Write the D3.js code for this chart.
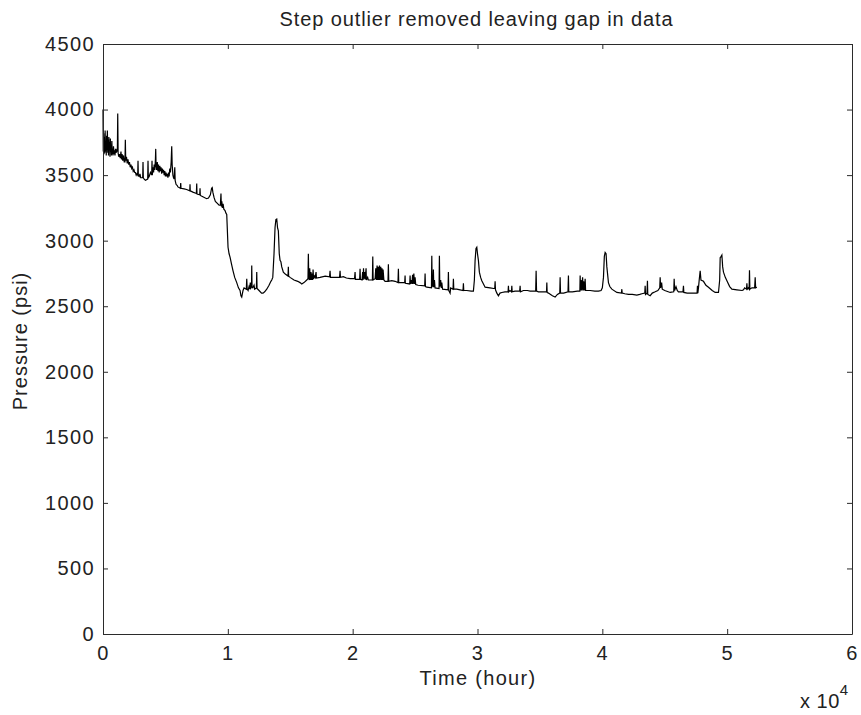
<!DOCTYPE html>
<html>
<head>
<meta charset="utf-8">
<script src="https://cdn.jsdelivr.net/npm/d3@7"></script>
<style>
  html, body { margin: 0; padding: 0; background: #fff; }
  svg text { font-family: Arial, "Liberation Sans", Helvetica, sans-serif; fill: #222; }
</style>
</head>
<body>
<svg id="chart" width="861" height="715"></svg>
<script>
// ---- data ----
const title = "Step outlier removed leaving gap in data";
const xLabel = "Time (hour)";
const yLabel = "Pressure (psi)";
const xTicks = [0, 10000, 20000, 30000, 40000, 50000, 60000];
const xTickLabels = ["0", "1", "2", "3", "4", "5", "6"];
const yTicks = [0, 500, 1000, 1500, 2000, 2500, 3000, 3500, 4000, 4500];

// time in hours
const timeHours = [
  0, 20, 50, 80, 110, 140, 170, 200, 230, 260,
  290, 320, 350, 380, 410, 440, 470, 500, 530, 560,
  590, 620, 650, 680, 710, 740, 770, 800, 840, 880,
  920, 960, 1000, 1050, 1100, 1150, 1180, 1210, 1260, 1320,
  1380, 1440, 1480, 1530, 1580, 1640, 1700, 1760, 1790, 1820,
  1880, 1940, 2000, 2060, 2120, 2180, 2240, 2300, 2360, 2420,
  2480, 2540, 2600, 2660, 2720, 2780, 2805, 2830, 2900, 2960,
  3020, 3180, 3205, 3230, 3300, 3400, 3580, 3606, 3630, 3700,
  3800, 3900, 3926, 3950, 4000, 4050, 4100, 4150, 4200, 4223,
  4250, 4300, 4350, 4400, 4450, 4500, 4550, 4600, 4650, 4700,
  4750, 4800, 4850, 4900, 4950, 5000, 5050, 5100, 5150, 5200,
  5250, 5300, 5350, 5400, 5460, 5505, 5540, 5600, 5650, 5700,
  5750, 5780, 5850, 5950, 6000, 6200, 6226, 6250, 6500, 6700,
  6950, 6971, 6990, 7200, 7480, 7508, 7530, 7750, 7773, 7795,
  8000, 8300, 8450, 8600, 8700, 8750, 8800, 8894, 9000, 9100,
  9300, 9400, 9450, 9480, 9520, 9560, 9620, 9680, 9776, 9850,
  9912, 10016, 10100, 10177, 10300, 10417, 10550, 10713, 10850, 10978,
  11050, 11114, 11218, 11300, 11480, 11515, 11550, 11620, 11700, 11760,
  11800, 11850, 11900, 11915, 11940, 12000, 12100, 12150, 12290, 12316,
  12340, 12500, 12700, 12821, 12950, 13117, 13300, 13450, 13518, 13600,
  13700, 13782, 13850, 13919, 13980, 14047, 14120, 14183, 14250, 14319,
  14447, 14600, 14820, 14848, 14870, 14984, 15300, 15600, 15786, 15922,
  16100, 16323, 16420, 16451, 16480, 16530, 16560, 16600, 16660, 16700,
  16760, 16800, 16827, 16870, 16950, 17000, 17067, 17100, 17388, 17800,
  18150, 18189, 18220, 18500, 18950, 18991, 19020, 19255, 19500, 19800,
  20150, 20193, 20220, 20560, 20593, 20620, 20750, 20800, 20834, 20870,
  20900, 20950, 21000, 21074, 21100, 21200, 21250, 21395, 21580, 21611,
  21640, 21800, 21850, 21900, 21956, 22000, 22050, 22100, 22150, 22196,
  22250, 22300, 22350, 22400, 22436, 22500, 22597, 22830, 22861, 22890,
  23134, 23400, 23630, 23663, 23690, 23799, 24170, 24199, 24220, 24570,
  24600, 24630, 24700, 24750, 24800, 24840, 24900, 24950, 25000, 25050,
  25241, 25770, 25802, 25830, 25938, 26310, 26339, 26370, 26400, 26430,
  26467, 26500, 26550, 26600, 26920, 26948, 26980, 27050, 27100, 27140,
  27200, 27640, 27669, 27700, 27805, 27850, 28040, 28070, 28100, 28342,
  28600, 28840, 28871, 28900, 29143, 29500, 29672, 29750, 29808, 29880,
  29945, 30000, 30073, 30150, 30250, 30345, 30610, 31000, 31300, 31380,
  31411, 31440, 31550, 31676, 31800, 31948, 32200, 32450, 32477, 32500,
  32600, 32720, 32749, 32780, 33000, 33380, 33414, 33440, 33679, 34000,
  34216, 34660, 34696, 34730, 34881, 35200, 35530, 35554, 35580, 35682,
  36000, 36219, 36400, 36590, 36619, 36650, 36900, 37250, 37284, 37310,
  37600, 38000, 38200, 38222, 38260, 38300, 38350, 38420, 38460, 38500,
  38560, 38623, 38660, 39024, 39400, 39689, 39900, 40000, 40090, 40160,
  40225, 40300, 40362, 40490, 40600, 40762, 41163, 41530, 41563, 41590,
  41800, 42092, 42400, 42765, 43000, 43166, 43400, 43430, 43460, 43580,
  43614, 43640, 43831, 44000, 44232, 44450, 44600, 44632, 44670, 44750,
  44800, 45000, 45433, 45720, 45754, 45790, 45900, 46000, 46098, 46460,
  46499, 46530, 46796, 47200, 47590, 47621, 47650, 47700, 47760, 47838,
  47900, 48102, 48300, 48503, 48800, 49039, 49304, 49400, 49440, 49520,
  49577, 49640, 49705, 49850, 49978, 50200, 50378, 50779, 51200, 51308,
  51400, 51550, 51580, 51610, 51700, 51760, 51788, 51820, 51981, 52200,
  52245, 52280, 52381
];

// pressure in psi
const pressurePsi = [
  4000, 3680, 3820, 3660, 3790, 3670, 3840, 3680, 3760, 3650,
  3800, 3690, 3840, 3670, 3770, 3650, 3790, 3690, 3750, 3640,
  3780, 3680, 3720, 3650, 3760, 3660, 3700, 3650, 3720, 3660,
  3690, 3650, 3700, 3670, 3690, 3680, 3970, 3670, 3640, 3660,
  3630, 3680, 3620, 3660, 3610, 3650, 3600, 3600, 3770, 3610,
  3640, 3590, 3620, 3580, 3600, 3560, 3580, 3550, 3560, 3530,
  3540, 3520, 3520, 3500, 3510, 3500, 3610, 3500, 3490, 3510,
  3480, 3480, 3600, 3480, 3470, 3460, 3470, 3610, 3480, 3490,
  3520, 3500, 3610, 3500, 3560, 3520, 3580, 3540, 3620, 3700,
  3580, 3540, 3600, 3530, 3580, 3520, 3570, 3530, 3560, 3510,
  3550, 3520, 3540, 3500, 3530, 3490, 3520, 3490, 3510, 3480,
  3520, 3490, 3550, 3520, 3600, 3720, 3580, 3500, 3480, 3470,
  3560, 3460, 3430, 3420, 3410, 3400, 3440, 3400, 3395, 3390,
  3380, 3430, 3380, 3370, 3360, 3435, 3355, 3350, 3400, 3345,
  3335, 3320, 3325, 3350, 3400, 3405, 3370, 3330, 3300, 3290,
  3270, 3270, 3360, 3260, 3300, 3250, 3280, 3240, 3230, 3210,
  3200, 2950, 2900, 2875, 2820, 2770, 2720, 2680, 2640, 2620,
  2580, 2570, 2620, 2640, 2630, 2710, 2630, 2620, 2650, 2630,
  2680, 2640, 2650, 2810, 2645, 2640, 2660, 2630, 2640, 2760,
  2635, 2620, 2600, 2600, 2610, 2630, 2660, 2690, 2700, 2720,
  2900, 3100, 3160, 3165, 3100, 3075, 2900, 2850, 2840, 2800,
  2760, 2745, 2730, 2800, 2730, 2720, 2700, 2690, 2680, 2670,
  2680, 2700, 2710, 2900, 2720, 2700, 2790, 2700, 2760, 2700,
  2750, 2700, 2780, 2710, 2730, 2720, 2760, 2715, 2720, 2730,
  2725, 2770, 2720, 2720, 2720, 2770, 2720, 2725, 2715, 2710,
  2710, 2760, 2705, 2705, 2785, 2705, 2700, 2760, 2700, 2790,
  2710, 2760, 2705, 2790, 2700, 2720, 2700, 2700, 2700, 2880,
  2700, 2710, 2790, 2700, 2810, 2700, 2800, 2700, 2810, 2700,
  2800, 2700, 2790, 2700, 2780, 2700, 2690, 2690, 2820, 2690,
  2695, 2690, 2680, 2785, 2680, 2680, 2680, 2735, 2675, 2670,
  2735, 2670, 2700, 2670, 2740, 2670, 2750, 2670, 2720, 2665,
  2660, 2655, 2750, 2650, 2645, 2640, 2885, 2650, 2720, 2645,
  2780, 2645, 2700, 2640, 2635, 2885, 2650, 2700, 2640, 2680,
  2630, 2625, 2760, 2620, 2600, 2640, 2630, 2710, 2630, 2630,
  2625, 2620, 2675, 2620, 2620, 2615, 2615, 2700, 2850, 2940,
  2950, 2900, 2850, 2760, 2720, 2695, 2645, 2640, 2635, 2635,
  2690, 2625, 2600, 2580, 2600, 2605, 2610, 2610, 2655, 2610,
  2620, 2610, 2655, 2610, 2615, 2615, 2655, 2610, 2620, 2620,
  2615, 2615, 2770, 2615, 2610, 2610, 2610, 2680, 2605, 2600,
  2580, 2570, 2590, 2600, 2720, 2600, 2600, 2610, 2735, 2610,
  2610, 2615, 2615, 2735, 2620, 2700, 2620, 2720, 2620, 2690,
  2620, 2710, 2620, 2620, 2615, 2615, 2620, 2640, 2720, 2880,
  2910, 2900, 2800, 2680, 2650, 2630, 2605, 2600, 2630, 2600,
  2595, 2590, 2590, 2585, 2590, 2595, 2600, 2655, 2590, 2600,
  2695, 2590, 2580, 2600, 2610, 2620, 2640, 2720, 2640, 2680,
  2630, 2620, 2605, 2610, 2710, 2620, 2650, 2620, 2610, 2610,
  2655, 2605, 2600, 2600, 2600, 2655, 2600, 2640, 2700, 2770,
  2700, 2690, 2660, 2645, 2620, 2605, 2605, 2700, 2870, 2880,
  2890, 2800, 2760, 2720, 2695, 2650, 2630, 2625, 2620, 2625,
  2640, 2630, 2675, 2630, 2640, 2630, 2775, 2630, 2640, 2640,
  2720, 2640, 2645
];

// ---- layout ----
const svg = d3.select("#chart");
const margin = { left: 103, right: 9, top: 44, bottom: 81 };
const W = 861, H = 715;
const plotW = W - margin.left - margin.right;
const plotH = H - margin.top - margin.bottom;

const x = d3.scaleLinear().domain([0, 60000]).range([margin.left, margin.left + plotW]);
const y = d3.scaleLinear().domain([0, 4500]).range([margin.top + plotH, margin.top]);

const axisColor = "#2b2b2b";
const g = svg.append("g");

// data line
const pts = timeHours.map((t, i) => [t, pressurePsi[i]]);
g.append("path")
  .datum(pts)
  .attr("fill", "none")
  .attr("stroke", "#000")
  .attr("stroke-width", 1.2)
  .attr("stroke-linejoin", "miter")
  .attr("d", d3.line().x(d => x(d[0])).y(d => y(d[1])));

// axes (ticks inside, box)
const tickLen = 5;
const bottomAxis = d3.axisBottom(x).tickValues(xTicks).tickSizeInner(-tickLen).tickSizeOuter(0)
  .tickPadding(12).tickFormat((d, i) => xTickLabels[i]);
const topAxis = d3.axisTop(x).tickValues(xTicks).tickSizeInner(-tickLen).tickSizeOuter(0).tickFormat("");
const leftAxis = d3.axisLeft(y).tickValues(yTicks).tickSizeInner(-tickLen).tickSizeOuter(0)
  .tickPadding(8).tickFormat(d3.format("d"));
const rightAxis = d3.axisRight(y).tickValues(yTicks).tickSizeInner(-tickLen).tickSizeOuter(0).tickFormat("");

function styleAxis(sel) {
  sel.selectAll("path.domain").attr("stroke", axisColor).attr("stroke-width", 1);
  sel.selectAll(".tick line").attr("stroke", axisColor);
  sel.selectAll(".tick text").attr("font-size", 20).attr("fill", "#222")
    .attr("letter-spacing", 1.4)
    .attr("font-family", "Arial, 'Liberation Sans', sans-serif");
}
styleAxis(g.append("g").attr("transform", `translate(0,${margin.top + plotH})`).call(bottomAxis));
styleAxis(g.append("g").attr("transform", `translate(0,${margin.top})`).call(topAxis));
styleAxis(g.append("g").attr("transform", `translate(${margin.left},0)`).call(leftAxis));
styleAxis(g.append("g").attr("transform", `translate(${margin.left + plotW},0)`).call(rightAxis));

// titles
svg.append("text").attr("x", margin.left + plotW / 2 - 1).attr("y", 26)
  .attr("text-anchor", "middle").attr("font-size", 20).attr("letter-spacing", 0.9).text(title);
svg.append("text").attr("x", 478).attr("y", 685)
  .attr("text-anchor", "middle").attr("font-size", 20).attr("letter-spacing", 1.3).text(xLabel);
svg.append("text").attr("transform", `translate(27,${margin.top + plotH / 2 + 2}) rotate(-90)`)
  .attr("text-anchor", "middle").attr("font-size", 20).attr("letter-spacing", 1).text(yLabel);

// exponent
const ex = svg.append("text").attr("x", 800).attr("y", 708).attr("font-size", 20).attr("letter-spacing", 0.5);
ex.append("tspan").text("x 10");
ex.append("tspan").attr("dy", -13).attr("font-size", 15).text("4");
</script>
</body>
</html>
